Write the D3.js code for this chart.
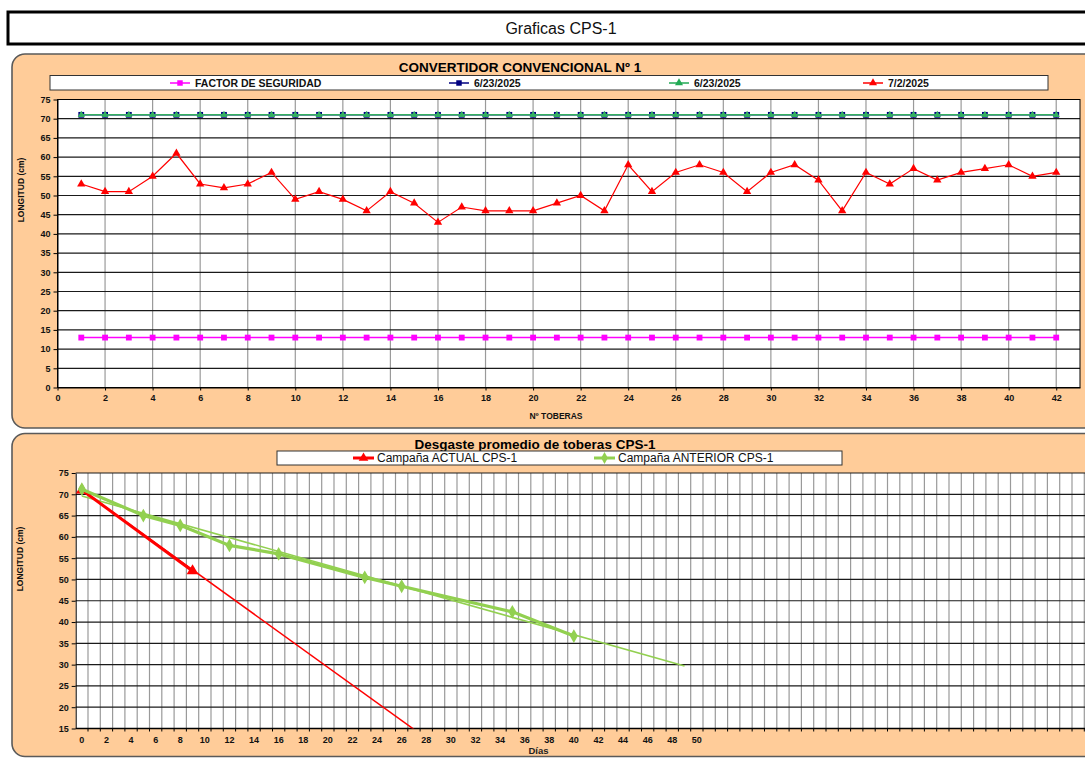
<!DOCTYPE html>
<html>
<head>
<meta charset="utf-8">
<script src="https://cdn.jsdelivr.net/npm/d3@7"></script>
<style>
  html, body { margin: 0; padding: 0; background: #fff; }
  svg { display: block; font-family: "Liberation Sans", Arial, sans-serif; }
</style>
</head>
<body>
<svg id="chart" width="1085" height="759"></svg>
<script>
// ---------------- DATA ----------------
const pageTitle = "Graficas CPS-1";

// Top chart: CONVERTIDOR CONVENCIONAL Nº 1
const topTitle = "CONVERTIDOR CONVENCIONAL Nº 1";
const toberas = [1,2,3,4,5,6,7,8,9,10,11,12,13,14,15,16,17,18,19,20,21,22,23,24,25,26,27,28,29,30,31,32,33,34,35,36,37,38,39,40,41,42];
const factorSeguridad = [13,13,13,13,13,13,13,13,13,13,13,13,13,13,13,13,13,13,13,13,13,13,13,13,13,13,13,13,13,13,13,13,13,13,13,13,13,13,13,13,13,13];
const serie0623a = [71,71,71,71,71,71,71,71,71,71,71,71,71,71,71,71,71,71,71,71,71,71,71,71,71,71,71,71,71,71,71,71,71,71,71,71,71,71,71,71,71,71];
const serie0623b = [71,71,71,71,71,71,71,71,71,71,71,71,71,71,71,71,71,71,71,71,71,71,71,71,71,71,71,71,71,71,71,71,71,71,71,71,71,71,71,71,71,71];
const serie0702 = [53,51,51,55,61,53,52,53,56,49,51,49,46,51,48,43,47,46,46,46,48,50,46,58,51,56,58,56,51,56,58,54,46,56,53,57,54,56,57,58,55,56];
const topLegendLabels = ["FACTOR DE SEGURIDAD", "6/23/2025", "6/23/2025", "7/2/2025"];
const topXTicks = [0,2,4,6,8,10,12,14,16,18,20,22,24,26,28,30,32,34,36,38,40,42];
const topYTicks = [0,5,10,15,20,25,30,35,40,45,50,55,60,65,70,75];

// Bottom chart: Desgaste promedio de toberas CPS-1
const bottomTitle = "Desgaste promedio de toberas CPS-1";
const bottomLegendLabels = ["Campaña ACTUAL CPS-1", "Campaña ANTERIOR CPS-1"];
const diasActual = [0, 9];
const longActual = [71, 52];
const diasAnterior = [0, 5, 8, 12, 16, 23, 26, 35, 40];
const longAnterior = [71.2, 65, 62.7, 58, 56, 50.5, 48.4, 42.4, 36.7];
// trend lines (start / end)
const trendActualDias = [0, 27];
const trendActualLong = [71, 14.8];
const trendAnteriorDias = [0, 49];
const trendAnteriorLong = [69.6, 29.7];
const bottomCategories = d3.range(0, 84);      // day categories (axis runs past the right edge)
const bottomXTicks = [0,2,4,6,8,10,12,14,16,18,20,22,24,26,28,30,32,34,36,38,40,42,44,46,48,50];
const bottomYTicks = [15,20,25,30,35,40,45,50,55,60,65,70,75];

// ---------------- DRAW ----------------
const svg = d3.select("#chart");
const ORANGE = "#FFCC99";

// Page title box
svg.append("rect").attr("x", 8).attr("y", 12).attr("width", 1100).attr("height", 32)
  .attr("fill", "#fff").attr("stroke", "#000").attr("stroke-width", 3);
svg.append("text").attr("x", 561).attr("y", 34).attr("text-anchor", "middle")
  .attr("font-size", 16).attr("fill", "#111").text(pageTitle);

// Panels
svg.append("rect").attr("x", 12).attr("y", 54).attr("width", 1090).attr("height", 374)
  .attr("rx", 13).attr("fill", ORANGE).attr("stroke", "#5a5a5a").attr("stroke-width", 1.6);
svg.append("rect").attr("x", 12).attr("y", 433.5).attr("width", 1090).attr("height", 323)
  .attr("rx", 13).attr("fill", ORANGE).attr("stroke", "#5a5a5a").attr("stroke-width", 1.6);

function marker(type, size) {
  return d3.symbol().type(type).size(size)();
}

// ================= TOP CHART =================
const xT = d3.scaleLinear().domain([0, 43]).range([57.5, 1080]);
const yT = d3.scaleLinear().domain([0, 75]).range([387.5, 99.5]);

svg.append("text").attr("x", 520).attr("y", 72).attr("text-anchor", "middle")
  .attr("font-size", 13.5).attr("font-weight", "bold").attr("fill", "#000").text(topTitle);

// legend
svg.append("rect").attr("x", 50).attr("y", 75.5).attr("width", 998).attr("height", 14.5)
  .attr("fill", "#fff").attr("stroke", "#333").attr("stroke-width", 1);
const topLegend = [
  {x: 170, color: "#FF00FF", sym: d3.symbolSquare, size: 30, label: topLegendLabels[0]},
  {x: 449, color: "#000080", sym: d3.symbolSquare, size: 30, label: topLegendLabels[1]},
  {x: 669, color: "#22AA55", sym: d3.symbolTriangle, size: 28, label: topLegendLabels[2]},
  {x: 863, color: "#FF0000", sym: d3.symbolTriangle, size: 28, label: topLegendLabels[3]}
];
topLegend.forEach(d => {
  const g = svg.append("g");
  g.append("line").attr("x1", d.x).attr("x2", d.x + 20).attr("y1", 83).attr("y2", 83)
    .attr("stroke", d.color).attr("stroke-width", 1.5);
  g.append("path").attr("d", marker(d.sym, d.size)).attr("transform", `translate(${d.x + 10},83)`)
    .attr("fill", d.color);
  g.append("text").attr("x", d.x + 25).attr("y", 86.8).attr("font-size", 10.5)
    .attr("font-weight", "bold").attr("fill", "#111").text(d.label);
});

// plot area
svg.append("rect").attr("x", xT(0)).attr("y", yT(75)).attr("width", xT(43) - xT(0))
  .attr("height", yT(0) - yT(75)).attr("fill", "#fff");
// vertical grid
svg.append("g").selectAll("line").data(topXTicks.filter(v => v > 0)).join("line")
  .attr("x1", d => xT(d)).attr("x2", d => xT(d)).attr("y1", yT(0)).attr("y2", yT(75))
  .attr("stroke", "#9a9a9a").attr("stroke-width", 1.2);
// horizontal grid
svg.append("g").selectAll("line").data(topYTicks.filter(v => v > 0)).join("line")
  .attr("x1", xT(0)).attr("x2", xT(43)).attr("y1", d => yT(d)).attr("y2", d => yT(d))
  .attr("stroke", "#1a1a1a").attr("stroke-width", 1.2);
svg.append("rect").attr("x", xT(0)).attr("y", yT(75)).attr("width", xT(43) - xT(0))
  .attr("height", yT(0) - yT(75)).attr("fill", "none").attr("stroke", "#000").attr("stroke-width", 1);

// axes
const axT = svg.append("g").attr("transform", `translate(0,${yT(0)})`)
  .call(d3.axisBottom(xT).tickValues(topXTicks).tickSize(3).tickSizeOuter(0).tickPadding(4));
const ayT = svg.append("g").attr("transform", `translate(${xT(0)},0)`)
  .call(d3.axisLeft(yT).tickValues(topYTicks).tickSize(4).tickSizeOuter(0).tickPadding(3));
[axT, ayT].forEach(a => {
  a.selectAll("text").attr("font-size", 9).attr("font-weight", "bold").attr("fill", "#111")
    .attr("font-family", "Liberation Sans, Arial, sans-serif");
  a.selectAll("line,path").attr("stroke", "#000");
});
svg.append("text").attr("transform", `translate(24,190) rotate(-90)`).attr("text-anchor", "middle")
  .attr("font-size", 8.5).attr("font-weight", "bold").attr("fill", "#111").text("LONGITUD (cm)");
svg.append("text").attr("x", 556).attr("y", 419).attr("text-anchor", "middle")
  .attr("font-size", 8.5).attr("font-weight", "bold").attr("fill", "#111").text("Nº TOBERAS");

// series
const lineT = d3.line().x(d => xT(d[0])).y(d => yT(d[1]));
function drawTopSeries(vals, color, sym, size, width) {
  const pts = toberas.map((t, i) => [t, vals[i]]);
  svg.append("path").attr("d", lineT(pts)).attr("fill", "none").attr("stroke", color)
    .attr("stroke-width", width);
  svg.append("g").selectAll("path").data(pts).join("path")
    .attr("d", marker(sym, size)).attr("transform", d => `translate(${xT(d[0])},${yT(d[1])})`)
    .attr("fill", color);
}
drawTopSeries(factorSeguridad, "#FF00FF", d3.symbolSquare, 34, 1.5);
drawTopSeries(serie0623a, "#000080", d3.symbolSquare, 34, 1.5);
drawTopSeries(serie0623b, "#33B060", d3.symbolTriangle, 22, 1.5);
drawTopSeries(serie0702, "#FF0000", d3.symbolTriangle, 30, 1.2);

// ================= BOTTOM CHART =================
const xB = d3.scaleBand().domain(bottomCategories).range([75.7, 75.7 + bottomCategories.length * 12.3]).padding(0);
const xc = d => xB(d) + xB.bandwidth() / 2;
const yB = d3.scaleLinear().domain([15, 75]).range([728.5, 473]);
const plotR = xB.range()[1];

svg.append("text").attr("x", 535).attr("y", 449).attr("text-anchor", "middle")
  .attr("font-size", 13.5).attr("font-weight", "bold").attr("fill", "#000").text(bottomTitle);

svg.append("rect").attr("x", 277).attr("y", 451).attr("width", 565).attr("height", 14)
  .attr("fill", "#fff").attr("stroke", "#333").attr("stroke-width", 1);
const botLegend = [
  {x: 353, color: "#FF0000", sym: d3.symbolTriangle, size: 40, label: bottomLegendLabels[0]},
  {x: 594, color: "#92D050", sym: d3.symbolDiamond, size: 40, label: bottomLegendLabels[1]}
];
botLegend.forEach(d => {
  svg.append("line").attr("x1", d.x).attr("x2", d.x + 21).attr("y1", 458).attr("y2", 458)
    .attr("stroke", d.color).attr("stroke-width", 3);
  svg.append("path").attr("d", marker(d.sym, d.size)).attr("transform", `translate(${d.x + 10.5},458)`)
    .attr("fill", d.color);
  svg.append("text").attr("x", d.x + 24).attr("y", 462.3).attr("font-size", 12)
    .attr("fill", "#111").text(d.label);
});

svg.append("rect").attr("x", xB.range()[0]).attr("y", yB(75)).attr("width", plotR - xB.range()[0])
  .attr("height", yB(15) - yB(75)).attr("fill", "#fff");
// vertical grid at band boundaries
svg.append("g").selectAll("line").data(bottomCategories.slice(1)).join("line")
  .attr("x1", d => xB(d)).attr("x2", d => xB(d)).attr("y1", yB(75)).attr("y2", yB(15))
  .attr("stroke", "#9a9a9a").attr("stroke-width", 1.2);
// small ticks under the axis at band boundaries
svg.append("g").selectAll("line").data(bottomCategories.slice(1)).join("line")
  .attr("x1", d => xB(d)).attr("x2", d => xB(d)).attr("y1", yB(15)).attr("y2", yB(15) + 3)
  .attr("stroke", "#000").attr("stroke-width", 1);
// horizontal grid
svg.append("g").selectAll("line").data(bottomYTicks.filter(v => v > 15)).join("line")
  .attr("x1", xB.range()[0]).attr("x2", plotR).attr("y1", d => yB(d)).attr("y2", d => yB(d))
  .attr("stroke", "#1a1a1a").attr("stroke-width", 1.2);
svg.append("line").attr("x1", xB.range()[0]).attr("x2", plotR).attr("y1", yB(15)).attr("y2", yB(15))
  .attr("stroke", "#000").attr("stroke-width", 1.3);

const axB = svg.append("g").attr("transform", `translate(0,${yB(15)})`)
  .call(d3.axisBottom(xB).tickValues(bottomXTicks).tickSize(0).tickPadding(8));
axB.select(".domain").remove();
const ayB = svg.append("g").attr("transform", `translate(${xB.range()[0]},0)`)
  .call(d3.axisLeft(yB).tickValues(bottomYTicks).tickSize(4).tickSizeOuter(0).tickPadding(3));
[axB, ayB].forEach(a => {
  a.selectAll("text").attr("font-size", 9).attr("font-weight", "bold").attr("fill", "#111")
    .attr("font-family", "Liberation Sans, Arial, sans-serif");
  a.selectAll("line,path").attr("stroke", "#000");
});
svg.append("text").attr("transform", `translate(23,559) rotate(-90)`).attr("text-anchor", "middle")
  .attr("font-size", 8.5).attr("font-weight", "bold").attr("fill", "#111").text("LONGITUD (cm)");
svg.append("text").attr("x", 538.5).attr("y", 753.5).attr("text-anchor", "middle")
  .attr("font-size", 9.5).attr("font-weight", "bold").attr("fill", "#222").text("Días");

// clip to plot area
svg.append("clipPath").attr("id", "clipB").append("rect")
  .attr("x", xB.range()[0]).attr("y", yB(75)).attr("width", plotR - xB.range()[0])
  .attr("height", yB(15) - yB(75));
const gB = svg.append("g").attr("clip-path", "url(#clipB)");
const lineB = d3.line().x(d => xc(d[0])).y(d => yB(d[1]));

// trend lines (thin)
gB.append("path").attr("d", lineB(trendAnteriorDias.map((d, i) => [d, trendAnteriorLong[i]])))
  .attr("fill", "none").attr("stroke", "#92D050").attr("stroke-width", 1.6);
gB.append("path").attr("d", lineB(trendActualDias.map((d, i) => [d, trendActualLong[i]])))
  .attr("fill", "none").attr("stroke", "#FF0000").attr("stroke-width", 1.5);

// series (thick)
const ptsAct = diasActual.map((d, i) => [d, longActual[i]]);
const ptsAnt = diasAnterior.map((d, i) => [d, longAnterior[i]]);
gB.append("path").attr("d", lineB(ptsAct)).attr("fill", "none").attr("stroke", "#FF0000").attr("stroke-width", 3);
gB.append("g").selectAll("path").data(ptsAct).join("path")
  .attr("d", marker(d3.symbolTriangle, 60)).attr("transform", d => `translate(${xc(d[0])},${yB(d[1])})`)
  .attr("fill", "#FF0000");
gB.append("path").attr("d", lineB(ptsAnt)).attr("fill", "none").attr("stroke", "#92D050").attr("stroke-width", 3.2);
gB.append("g").selectAll("path").data(ptsAnt).join("path")
  .attr("d", marker(d3.symbolDiamond, 55)).attr("transform", d => `translate(${xc(d[0])},${yB(d[1])})`)
  .attr("fill", "#92D050");
</script>
</body>
</html>
